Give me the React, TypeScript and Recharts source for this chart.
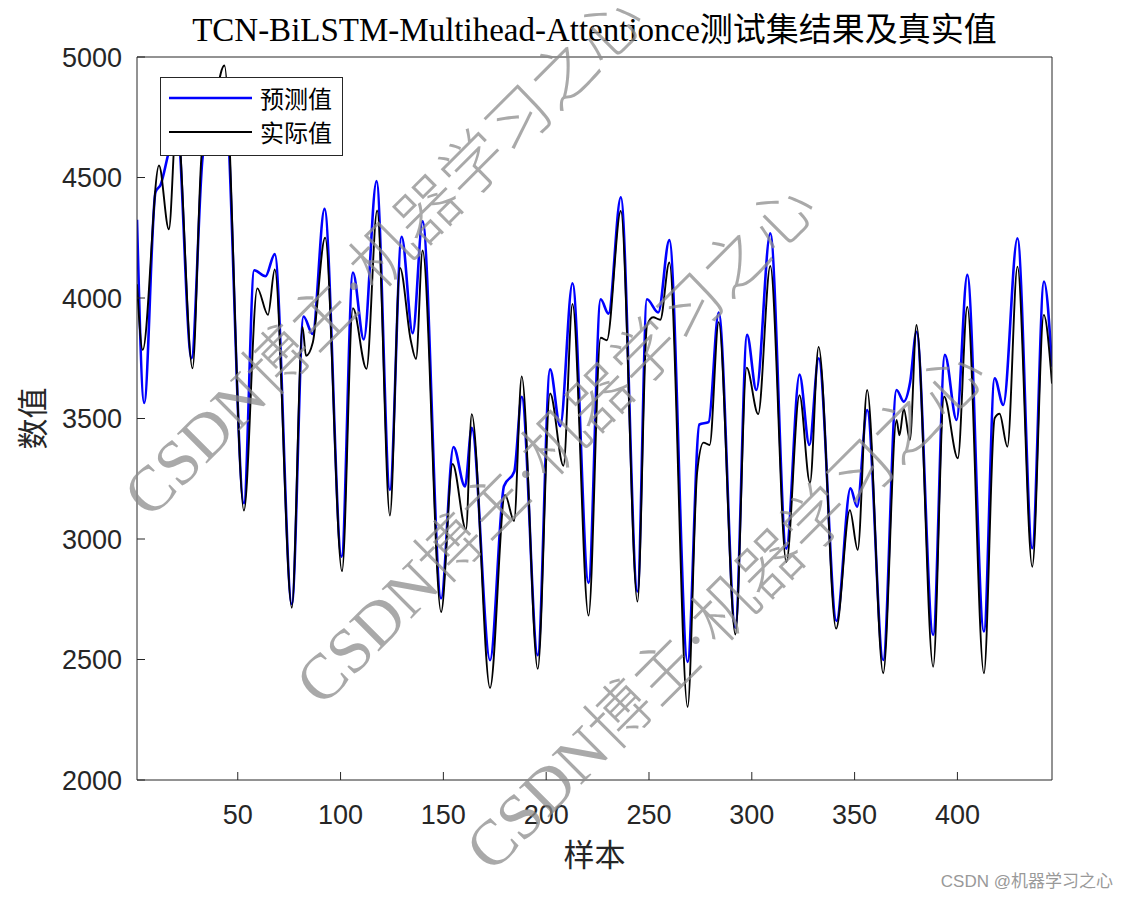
import React from 'react';
import { LineChart, Line, XAxis, YAxis, Legend } from 'recharts';

// ---------- text ----------
const TITLE = 'TCN-BiLSTM-Multihead-Attentionce测试集结果及真实值';
const X_LABEL = '样本';
const Y_LABEL = '数值';
const PRED_NAME = '预测值';
const ACTUAL_NAME = '实际值';
const LEGEND_ORDER = [PRED_NAME, ACTUAL_NAME];
const WATERMARK = 'CSDN博主·机器学习之心';
const FOOTER = 'CSDN @机器学习之心';

// ---------- axes ----------
const xTicks = [50, 100, 150, 200, 250, 300, 350, 400];
const yTicks = [2000, 2500, 3000, 3500, 4000, 4500, 5000];
const xDomain = [1, 446];
const yDomain = [2000, 5000];

// ---------- series: predicted (blue) ----------
const predSamples = [1, 4.5, 10, 12.5, 16, 20.3, 27.5, 33, 38, 43.5, 53, 58, 63.5, 68, 76.3, 82, 86.4, 92.2, 100.5, 106, 111.3, 117.5, 124, 129.7, 135.1, 139.9, 148.9, 154.9, 160.5, 163.8, 172.7, 179.5, 184.5, 188.1, 195.9, 201.9, 206.8, 212.8, 220.6, 226.5, 230.3, 236.3, 244.4, 249, 254.5, 259.9, 268.8, 274.5, 279, 283.9, 292, 297.7, 302.2, 309, 316.8, 323.2, 328, 332.5, 341.2, 348, 351.2, 356.1, 363.9, 370.4, 373.9, 377, 380.1, 388.2, 393.9, 399.6, 404.8, 412.9, 418.1, 422.3, 429.2, 436.4, 442.1, 446];
const predValues = [4325, 3565, 4440, 4470, 4590, 4740, 3750, 4590, 4740, 4870, 3149, 4115, 4090, 4182, 2730, 3923, 3851, 4370, 2927, 4106, 3828, 4485, 3204, 4254, 3854, 4318, 2754, 3382, 3218, 3461, 2497, 3220, 3280, 3590, 2518, 3704, 3468, 4061, 2818, 3995, 3935, 4418, 2782, 3995, 3940, 4240, 2490, 3475, 3485, 3940, 2632, 3847, 3618, 4268, 2960, 3682, 3390, 3750, 2660, 3210, 3134, 3535, 2498, 3618, 3570, 3650, 3860, 2602, 3764, 3494, 4096, 2616, 3667, 3556, 4248, 2962, 4068, 3715];

// ---------- series: actual (black) ----------
const actualSamples = [1, 3.8, 11.7, 16.5, 20.3, 28, 32.5, 38, 43.5, 53, 59.5, 64.7, 68, 76.3, 81.5, 83.2, 86.5, 92.5, 100.7, 106, 112.6, 117.8, 124, 128.9, 134.1, 136.7, 139.9, 148.9, 154.5, 161, 163.8, 172.7, 180, 184.4, 188.1, 195.9, 201.9, 208.4, 212.8, 220.6, 226.5, 229.5, 236.3, 244.4, 249, 252, 255.5, 259.9, 268.8, 273.4, 276.5, 279.5, 283.9, 292, 297.5, 303.1, 309, 316.8, 323.2, 328.3, 332.5, 341, 347.7, 351.5, 356.1, 363.9, 370.4, 371.8, 373.9, 376.9, 380.1, 388.2, 393.5, 400.2, 404.8, 412.9, 418.1, 420.5, 424.3, 429.2, 436.4, 442, 446];
const actualValues = [4057, 3785, 4550, 4285, 4760, 3708, 4600, 4780, 4965, 3118, 4040, 3930, 4118, 2715, 3880, 3760, 3815, 4250, 2866, 3958, 3706, 4363, 3097, 4125, 3826, 3747, 4197, 2697, 3311, 3040, 3518, 2382, 3183, 3075, 3675, 2461, 3604, 3304, 3975, 2682, 3835, 3825, 4361, 2740, 3885, 3920, 3910, 4147, 2303, 3275, 3400, 3390, 3900, 2604, 3711, 3518, 4133, 2904, 3597, 3233, 3797, 2628, 3120, 2955, 3618, 2443, 3494, 3430, 3540, 3411, 3888, 2470, 3591, 3335, 3964, 2443, 3501, 3520, 3383, 4130, 2885, 3930, 3645];

const predData = predSamples.map((s, i) => ({ s, v: predValues[i] }));
const actualData = actualSamples.map((s, i) => ({ s, v: actualValues[i] }));

// ---------- styles ----------
const AXIS_COLOR = '#262626';
const PRED_COLOR = '#0000ff';
const ACTUAL_COLOR = '#000000';
const PRED_WIDTH = 2.6;
const ACTUAL_WIDTH = 1.9;
const SANS = '"Liberation Sans", Arial, Helvetica, sans-serif';
const CJK = '"Noto Sans CJK SC", "Liberation Serif", serif';
const SERIF_CJK = '"Liberation Serif", "Times New Roman", "Noto Sans CJK SC", serif';

const tickStyle = { fontSize: 27, fill: AXIS_COLOR, fontFamily: SANS };

const renderLegend = (props: any) => {
  const payload = [...(props.payload || [])].sort(
    (a: any, b: any) => LEGEND_ORDER.indexOf(a.value) - LEGEND_ORDER.indexOf(b.value)
  );
  return (
    <div
      style={{
        width: 181,
        height: 77,
        border: `1px solid ${AXIS_COLOR}`,
        background: '#fff',
        position: 'relative',
      }}
    >
      {payload.map((p: any, i: number) => (
        <div
          key={i}
          style={{
            position: 'absolute',
            left: 8,
            top: 6 + i * 34,
            height: 28,
            display: 'flex',
            alignItems: 'center',
          }}
        >
          <svg width={83} height={4} style={{ display: 'block' }}>
            <line
              x1={0}
              y1={2}
              x2={83}
              y2={2}
              stroke={p.color}
              strokeWidth={p.value === PRED_NAME ? PRED_WIDTH : ACTUAL_WIDTH}
            />
          </svg>
          <span style={{ marginLeft: 8, fontSize: 24, fontFamily: CJK, color: '#000', lineHeight: '28px' }}>
            {p.value}
          </span>
        </div>
      ))}
    </div>
  );
};

const watermarkStarts = [
  [150, 520],
  [322, 708],
  [492, 874],
];

export default function App() {
  return (
    <div style={{ position: 'absolute', left: 0, top: 0, width: 1131, height: 898, background: '#fff' }}>
      <LineChart
        width={1131}
        height={898}
        margin={{ top: 56, right: 78, bottom: 28, left: 37 }}
      >
        <XAxis
          xAxisId="bottom"
          dataKey="s"
          type="number"
          domain={xDomain}
          ticks={xTicks}
          interval={0}
          allowDataOverflow
          height={90}
          tickSize={-8}
          tickMargin={33}
          tick={tickStyle}
          axisLine={{ stroke: AXIS_COLOR, strokeWidth: 1 }}
          tickLine={{ stroke: AXIS_COLOR }}
          label={{
            value: X_LABEL,
            position: 'insideBottom',
            offset: 4,
            style: { fontSize: 31, fill: AXIS_COLOR, fontFamily: CJK },
          }}
        />
        <XAxis
          xAxisId="top"
          orientation="top"
          dataKey="s"
          type="number"
          domain={xDomain}
          ticks={xTicks}
          interval={0}
          allowDataOverflow
          height={1}
          tickSize={-8}
          tick={false}
          axisLine={{ stroke: AXIS_COLOR, strokeWidth: 1 }}
          tickLine={{ stroke: AXIS_COLOR }}
        />
        <YAxis
          yAxisId="left"
          type="number"
          domain={yDomain}
          ticks={yTicks}
          interval={0}
          allowDataOverflow
          width={100}
          tickSize={-8}
          tickMargin={23}
          tick={tickStyle}
          axisLine={{ stroke: AXIS_COLOR, strokeWidth: 1 }}
          tickLine={{ stroke: AXIS_COLOR }}
          label={{
            value: Y_LABEL,
            angle: -90,
            position: 'insideLeft',
            offset: -4,
            style: { textAnchor: 'middle', fontSize: 31, fill: AXIS_COLOR, fontFamily: CJK },
          }}
        />
        <YAxis
          yAxisId="right"
          orientation="right"
          type="number"
          domain={yDomain}
          ticks={yTicks}
          interval={0}
          allowDataOverflow
          width={1}
          tickSize={-8}
          tick={false}
          axisLine={{ stroke: AXIS_COLOR, strokeWidth: 1 }}
          tickLine={{ stroke: AXIS_COLOR }}
        />
        <Line
          xAxisId="top"
          yAxisId="right"
          data={predData}
          dataKey="v"
          name={PRED_NAME}
          type="monotone"
          stroke={PRED_COLOR}
          strokeWidth={PRED_WIDTH}
          dot={false}
          activeDot={false}
          isAnimationActive={false}
        />
        <Line
          xAxisId="bottom"
          yAxisId="left"
          data={actualData}
          dataKey="v"
          name={ACTUAL_NAME}
          type="monotone"
          stroke={ACTUAL_COLOR}
          strokeWidth={ACTUAL_WIDTH}
          dot={false}
          activeDot={false}
          isAnimationActive={false}
        />
        <Legend
          layout="vertical"
          align="center"
          verticalAlign="middle"
          width={183}
          height={79}
          wrapperStyle={{ left: 160, top: 77, width: 183, height: 79 }}
          content={renderLegend}
        />
      </LineChart>
      <svg
        width={1131}
        height={898}
        style={{ position: 'absolute', left: 0, top: 0, pointerEvents: 'none' }}
      >
        <text x={594.5} y={41} textAnchor="middle" fontSize={33} fontFamily={SERIF_CJK} fill="#000">
          {TITLE}
        </text>
        {watermarkStarts.map(([x, y], i) => (
          <text
            key={i}
            x={x}
            y={y}
            transform={`rotate(-45 ${x} ${y})`}
            fontSize={64}
            fontWeight={300}
            fontFamily={SERIF_CJK}
            fill="#8c8c8c"
            fillOpacity={0.75}
          >
            {WATERMARK}
          </text>
        ))}
        <text
          x={1113}
          y={887}
          textAnchor="end"
          fontSize={17}
          fontFamily={'"Liberation Sans", "Noto Sans CJK SC", sans-serif'}
          fill="#999"
        >
          {FOOTER}
        </text>
      </svg>
    </div>
  );
}
